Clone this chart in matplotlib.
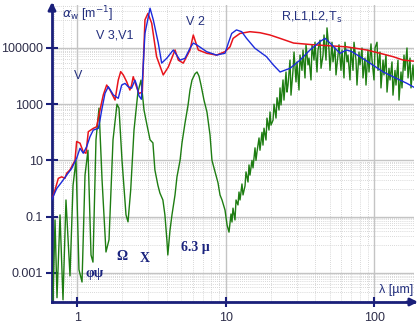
import matplotlib
matplotlib.use('Agg')
import matplotlib.pyplot as plt
from matplotlib.ticker import FixedLocator, NullFormatter

# ---------------- data (wavelength in µm, absorption coefficient in 1/m) -------------
red_lam = [0.683, 0.708, 0.745, 0.785, 0.826, 0.848, 0.893, 0.917, 0.965, 0.99, 1.043,
           1.097, 1.144, 1.186, 1.281, 1.35, 1.385, 1.422, 1.496, 1.577, 1.66, 1.795,
           1.887, 1.96, 2.04, 2.15, 2.26, 2.32, 2.38, 2.48, 2.60, 2.74, 2.855, 2.99,
           3.17, 3.42, 3.79, 4.1, 4.55, 4.79, 5.17, 5.74, 6.04, 6.2, 6.53, 7.43, 8.66,
           9.88, 10.67, 11.2, 12.46, 14.55, 17.0, 19.85, 23.2, 28.6, 39.0, 65.1, 88.9,
           109, 134, 157, 185]
red_alpha = [0.49, 0.89, 2.3, 2.6, 2.3, 3.5, 4.6, 6.0, 10, 47, 41,
             20, 18, 105, 138, 158, 316, 617, 2140, 4800, 3200, 1410,
             7200, 14400, 11000, 6300, 3200, 4800, 9500, 4800, 2400, 2700, 1.0e6, 1.7e6,
             7.6e5, 4.9e4, 1.1e4, 2.1e4, 8.5e4, 3.7e4, 2.9e4, 8.5e4, 2.9e5, 1.9e5, 8.5e4,
             6.5e4, 5.6e4, 7.4e4, 1.1e5, 2.2e5, 3.3e5, 3.8e5, 3.5e5, 2.9e5, 2.2e5, 1.5e5,
             1.3e5, 1.1e5, 8.5e4, 6.5e4, 4.9e4, 3.7e4, 3.4e4]

blue_lam = [0.672, 0.727, 0.785, 0.848, 0.917, 0.99, 1.043, 1.097, 1.157, 1.218, 1.281,
            1.385, 1.422, 1.46, 1.537, 1.617, 1.748, 1.887, 1.99, 2.095, 2.2, 2.32,
            2.445, 2.51, 2.60, 2.70, 2.855, 3.09, 3.25, 3.51, 3.7, 4.0, 4.43, 4.67,
            4.92, 5.31, 5.74, 6.04, 6.36, 7.43, 8.66, 9.88, 10.4, 10.96, 11.8, 12.8,
            13.8, 15.7, 18.8, 20.9, 23.2, 27.1, 31.6, 36.9, 43.1, 46.6, 50.3, 54.4,
            58.8, 65.1, 70.7, 80.1, 93.5, 115, 141, 166, 185]
blue_alpha = [0.39, 1.0, 1.7, 3.0, 5.2, 12, 27, 18, 31, 70, 120,
              138, 275, 617, 2450, 4200, 2140, 1620, 4800, 5500, 4200, 3700,
              7200, 4800, 2000, 1500, 3.3e5, 2.6e6, 1.0e6, 1.5e5, 2.9e4, 4.3e4, 8.5e4, 5.6e4,
              3.7e4, 4.3e4, 9.8e4, 1.5e5, 1.3e5, 7.4e4, 5.6e4, 6.5e4, 1.5e5, 3.3e5, 4.4e5, 3.8e5,
              2.2e5, 9.8e4, 4.9e4, 2.5e4, 1.4e4, 1.9e4, 3.7e4, 8.5e4, 1.7e5, 2.2e5, 1.5e5, 9.8e4,
              6.5e4, 8.5e4, 7.4e4, 4.9e4, 2.9e4, 1.4e4, 8300, 5500, 4000]

green_lam = [0.686, 0.708, 0.730, 0.765, 0.801, 0.839, 0.893, 0.936, 0.98, 1.026, 1.076,
             1.127, 1.18, 1.237, 1.275, 1.336, 1.40, 1.468, 1.56, 1.635, 1.74, 1.85,
             1.909, 2.0, 2.128, 2.195, 2.289, 2.409, 2.56, 2.685, 2.813, 2.947, 3.09, 3.23,
             3.33, 3.49, 3.6, 3.77, 3.89, 4.01, 4.07, 4.21, 4.34, 4.55, 4.69, 4.92,
             5.07, 5.31, 5.57, 5.74, 5.92, 6.2, 6.4, 6.6, 6.81, 7.13, 7.47, 7.83,
             8.07, 8.46, 8.86, 9.14, 9.43, 9.88, 10.2,
             10.51, 10.84, 11.01, 11.18, 11.53, 11.72, 12.08, 12.27, 12.47, 12.85, 13.06,
             13.47, 13.68, 14.11, 14.33, 14.55, 15.01, 15.25, 15.73, 15.97, 16.22, 16.74,
             16.99, 17.53, 17.80, 18.08, 18.65, 18.94, 19.54, 19.85, 20.16, 20.80, 21.12,
             21.78, 22.13, 22.82, 23.18, 23.54, 24.28, 24.65, 25.44, 25.83, 26.24, 27.06,
             27.48, 28.35, 28.80, 29.70, 30.16, 31.11, 31.60, 32.59, 33.11, 34.15, 34.68,
             35.78, 36.34, 37.48, 38.07, 39.26, 39.87, 41.13, 41.77, 43.09, 43.77, 45.14,
             45.85, 47.29, 48.03, 49.54, 50.31, 51.90, 52.71, 54.37, 55.22, 56.96, 57.85,
             59.67, 60.61, 62.51, 63.48, 65.49, 66.51, 68.60, 69.67, 71.87, 73.0, 75.29,
             76.46, 78.88, 80.11, 82.63, 83.93, 86.57, 87.92, 90.69, 92.11, 95.01, 96.50,
             99.54, 101.1, 104.3, 105.9, 109.2, 110.9, 114.5, 116.2, 119.9, 121.8, 125.6,
             127.6, 131.6, 133.6, 137.8, 140.0, 144.4, 146.7, 151.3, 153.6, 158.5, 161.0,
             166.0, 168.7, 174.0, 176.7, 182.2, 185.1]
green_alpha = [1.1e-4, 0.076, 1.3e-4, 0.115, 1.1e-4, 0.39, 7.8e-4, 1.3, 10, 1.3e-3, 4.7e-4,
               3.0, 23, 4.3e-3, 2.4e-3, 54, 720, 2.0, 5.5e-3, 0.015, 54, 1000,
               720, 10, 0.115, 0.065, 0.89, 120, 2700, 7200, 620, 180, 54, 42,
               4.6, 1.3, 0.69, 0.39, 0.115, 0.015, 4.3e-3, 0.033, 0.115, 0.59, 2.6, 10,
               42, 210, 930, 3200, 7200, 1.2e4, 1.4e4, 1.0e4, 4800, 1400, 520, 80,
               10, 3.9, 1.6, 0.59, 0.39, 0.17, 0.05,
               0.028, 0.124, 0.064, 0.20, 0.076, 0.39, 0.26, 0.75, 0.39, 1.45, 0.59,
               1.23, 3.9, 1.7, 6.9, 3.0, 10, 5.4, 28, 10, 20, 63,
               23, 100, 35, 140, 53, 320, 120, 530, 180, 270, 1000,
               320, 1700, 620, 3800, 940, 7300, 1400, 1.4e4, 2700, 4800, 3.7e4,
               2100, 1.6e4, 7.2e4, 6200, 3.2e4, 3200, 5.6e4, 1.6e4, 8.5e4, 8600, 1.3e5,
               2.5e4, 4.4e4, 7300, 1.3e5, 3.7e4, 1.6e5, 1.4e4, 8.5e4, 1.9e5, 1.9e4, 5.6e4,
               2.9e5, 3.7e4, 5.2e5, 8.5e4, 1.6e4, 1.6e5, 3.2e4, 1.0e5, 1.1e4, 5.6e4, 1.3e5,
               1.6e4, 8.5e4, 8600, 1.6e5, 3.2e4, 5.6e4, 7300, 1.0e5, 1.6e4, 1.6e5, 3.7e4,
               4800, 7.2e4, 2.5e4, 1.0e5, 8600, 4.4e4, 4800, 8.5e4, 1.4e4, 1.4e5, 3.7e4,
               7300, 1.0e5, 1.6e5, 1.6e4, 7.2e4, 3800, 3.7e4, 1.1e4, 5.6e4, 2700, 1.9e4,
               7300, 3.2e4, 2100, 1.6e4, 4800, 3.7e4, 1400, 1.4e4, 3800, 5.6e4, 1.6e4,
               1.0e5, 8600, 4.4e4, 3800, 2.5e4, 7300]

y_ticks = [1e-3, 1e-1, 1e1, 1e3, 1e5]
y_labels = ['0.001', '0.1', '10', '1000', '100000']
x_ticks = [1, 10, 100]
x_labels = ['1', '10', '100']

# ---------------- figure ----------------
W, H = 420, 326
navy = '#1a1f7a'
fig = plt.figure(figsize=(W / 100, H / 100), dpi=100, facecolor='white')
L, R, T, B = 52, 414, 5, 302
ax = fig.add_axes([L / W, 1 - B / H, (R - L) / W, (B - T) / H])
ax.set_xscale('log')
ax.set_yscale('log')
ax.set_xlim(10 ** ((L - 77.3) / 148.5), 10 ** ((R - 77.3) / 148.5))
ax.set_ylim(10 ** (5 - (B - 48) / 28.1), 10 ** (5 + (48 - T) / 28.1))

ax.plot(green_lam, green_alpha, color='#1e7d12', lw=1.0, zorder=3)
ax.plot(red_lam, red_alpha, color='#e8141b', lw=1.1, zorder=4)
ax.plot(blue_lam, blue_alpha, color='#1c2bdc', lw=1.0, zorder=5)

# grid
ax.xaxis.set_major_locator(FixedLocator(x_ticks))
ax.yaxis.set_major_locator(FixedLocator(y_ticks))
ax.set_xticklabels(x_labels)
ax.set_yticklabels(y_labels)
xminor = [m * 10 ** e for e in (-1, 0, 1) for m in range(2, 10)]
yminor = [m * 10 ** e for e in (-4, -2, 0, 2, 4, 6) for m in range(1, 10)]
ax.xaxis.set_minor_locator(FixedLocator(xminor))
ax.yaxis.set_minor_locator(FixedLocator(yminor))
ax.xaxis.set_minor_formatter(NullFormatter())
ax.yaxis.set_minor_formatter(NullFormatter())
ax.grid(which='major', color='#c4c4c4', lw=1.0, ls='-', zorder=0)
ax.grid(which='minor', color='#cccccc', lw=0.6, ls=(0, (1, 1.5)), zorder=0)
ax.set_axisbelow(True)

for s in ('top', 'right'):
    ax.spines[s].set_visible(False)
for s in ('left', 'bottom'):
    ax.spines[s].set_color(navy)
    ax.spines[s].set_linewidth(2.0)

ax.tick_params(which='minor', length=0)
ax.tick_params(axis='y', which='major', direction='inout', length=9, width=1.5,
               color=navy, labelsize=9, labelcolor='#2e2e4a', pad=2)
ax.tick_params(axis='x', which='major', direction='inout', length=7, width=1.5,
               color=navy, labelsize=9, labelcolor='#2e2e4a', pad=4)
for lab in ax.get_xticklabels() + ax.get_yticklabels():
    lab.set_fontfamily('Liberation Sans')

# arrows
ax.annotate('', xy=(1 + 4 / (R - L), 0), xytext=(0.98, 0), xycoords='axes fraction',
            arrowprops=dict(arrowstyle='-|>', color=navy, lw=2, mutation_scale=11,
                            shrinkA=0, shrinkB=0), annotation_clip=False)
ax.annotate('', xy=(0, 1 + 3 / (B - T)), xytext=(0, 0.98), xycoords='axes fraction',
            arrowprops=dict(arrowstyle='-|>', color=navy, lw=2, mutation_scale=11,
                            shrinkA=0, shrinkB=0), annotation_clip=False)


def ftxt(x, y, s, **kw):
    fig.text(x / W, 1 - y / H, s, **kw)


lab_kw = dict(color='#24307e', fontsize=9, family='Liberation Sans', va='center')
ftxt(62, 14, r'$\alpha_{\rm w}$ [m$^{-1}$]', **lab_kw)
ftxt(96, 35, 'V 3,V1', ha='left', **lab_kw)
ftxt(74, 76, 'V', ha='left', **lab_kw)
ftxt(186, 22, 'V 2', ha='left', **lab_kw)
ftxt(281, 17, r'R,L1,L2,T$_{\rm s}$', ha='left', **lab_kw)
ftxt(413, 290, r'λ [µm]', ha='right', **lab_kw)

bold_kw = dict(color='#1a237e', fontsize=10, family='Liberation Serif', weight='bold',
               va='center', ha='left')
ftxt(86, 273, 'φψ', **bold_kw)
ftxt(116, 257, 'Ω', **bold_kw)
ftxt(140, 258, 'X', **bold_kw)
ftxt(181, 247, '6.3 µ', **bold_kw)

fig.savefig('out.png', dpi=100, facecolor='white')
